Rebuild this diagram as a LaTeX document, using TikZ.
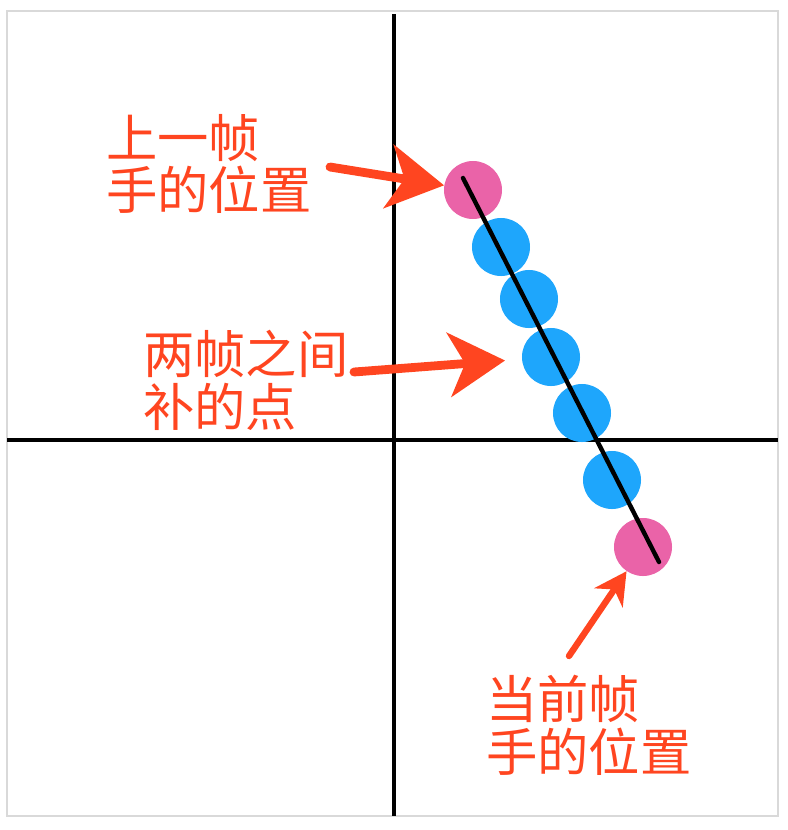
\documentclass[tikz,border=0pt]{standalone}
\usepackage{fontspec}
\newfontfamily\cjk{Noto Sans CJK SC}
\usetikzlibrary{arrows.meta,positioning}
\definecolor{hintred}{HTML}{FF4520}
\definecolor{handpink}{HTML}{EA63A8}
\definecolor{fillblue}{HTML}{1EA6FC}

\begin{document}
\begin{tikzpicture}[
            x=0.025cm, y=-0.025cm,
            axis/.style={line width=1.2mm},
            hand/.style={circle, fill=handpink, minimum size=1.45cm, inner sep=0pt},
            filler/.style={circle, fill=fillblue, minimum size=1.45cm, inner sep=0pt},
            label/.style={text=hintred, font=\cjk\fontsize{36.5}{37.5}\selectfont, align=left, inner sep=0pt},
            hint/.style={-{Stealth[length=1.4cm, width=1.6cm, inset=0.4cm]}, hintred, line width=2.2mm, line cap=round},
            smallhint/.style={-{Stealth[length=0.8cm, width=0.85cm, inset=0.25cm]}, hintred, line width=1.6mm, line cap=round}
        ]
            \useasboundingbox (0,0) rectangle (788,830);
            \draw[black!15, line width=0.6mm] (7,11) rectangle (778,816);
            
            % Axes
            \draw[axis] (394,14) -- (394,816);
            \draw[axis] (7,440) -- (778,440);
            
            % Nodes
            \node[filler] (fill1) at (501,247) {};
            \node[filler] (fill2) at (529,299) {};
            \node[filler] (fill3) at (551,357) {};
            \node[filler] (fill4) at (582,413) {};
            \node[filler] (fill5) at (612,480) {};
            \node[hand] (prev) at (473,190) {};
            \node[hand] (curr) at (643,547) {};
            \coordinate (start) at (463,178);
            \coordinate (end) at (659,562);
            \draw[line width=1.1mm, line cap=round] (start) -- (end);
            
            % Labels
            \node[label, anchor=west] (prevtext) at (106,164) {上一帧\\手的位置};
            \node[label, anchor=west] (filltext) at (143,380) {两帧之间\\补的点};
            \node[label, anchor=west] (currtext) at (486,725) {当前帧\\手的位置};
            
            % Arrows
            \coordinate (tail1) at (330,167);
            \coordinate (tail2) at (354,372);
            \coordinate (tail3) at (569,656);
            \draw[hint] (tail1) -- (prev);
            \draw[hint, shorten >=0.42cm] (tail2) -- (fill3);
            \draw[smallhint] (tail3) -- (curr);
        \end{tikzpicture}
\end{document}
